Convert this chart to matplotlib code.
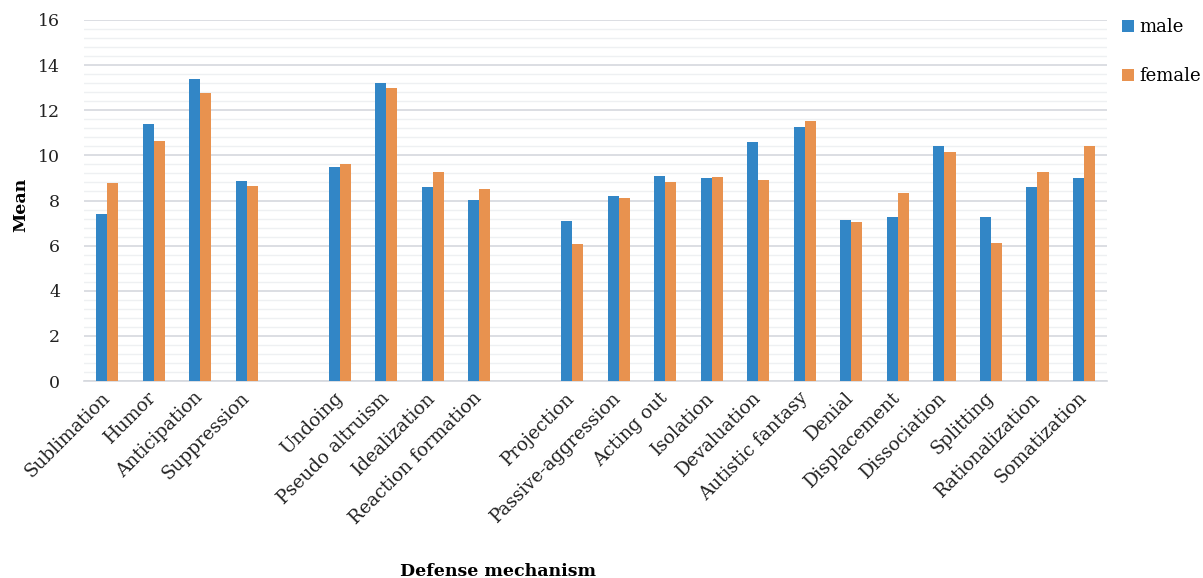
import matplotlib.pyplot as plt
import numpy as np
from matplotlib.ticker import MultipleLocator

# empty strings leave a blank slot between the mechanism groups
mechanisms = [
    "Sublimation", "Humor", "Anticipation", "Suppression", "",
    "Undoing", "Pseudo altruism", "Idealization", "Reaction formation", "",
    "Projection", "Passive-aggression", "Acting out", "Isolation",
    "Devaluation", "Autistic fantasy", "Denial", "Displacement",
    "Dissociation", "Splitting", "Rationalization", "Somatization",
]
male = [7.4, 11.4, 13.4, 8.85, np.nan,
        9.5, 13.2, 8.6, 8.03, np.nan,
        7.1, 8.18, 9.1, 9.0, 10.6, 11.27, 7.13, 7.28, 10.42, 7.28, 8.6, 9.0]
female = [8.78, 10.63, 12.75, 8.63, np.nan,
          9.6, 13.0, 9.25, 8.5, np.nan,
          6.08, 8.1, 8.82, 9.02, 8.9, 11.52, 7.04, 8.35, 10.15, 6.13, 9.25, 10.42]

blue = "#3286C6"
orange = "#E8924F"
plt.rcParams["font.family"] = ["DejaVu Serif"]

fig = plt.figure(figsize=(12.03, 5.78), dpi=100)
ax = fig.add_axes([0.0698, 0.3408, 0.8505, 0.6246])

x = np.arange(len(mechanisms))
w = 0.24
ax.bar(x - w / 2, male, w, color=blue, label="male", zorder=3)
ax.bar(x + w / 2, female, w, color=orange, label="female", zorder=3)

ax.set_xlim(-0.5, len(mechanisms) - 0.5)
ax.set_ylim(0, 16)
ax.yaxis.set_major_locator(MultipleLocator(2))
ax.yaxis.set_minor_locator(MultipleLocator(0.4))
ax.grid(which="major", axis="y", color="#D5D8DE", linewidth=1.2, zorder=0)
ax.grid(which="minor", axis="y", color="#EEF0F2", linewidth=1.0, zorder=0)
for side in ("top", "right", "left"):
    ax.spines[side].set_visible(False)
ax.spines["bottom"].set_color("#D5D8DE")
ax.spines["bottom"].set_linewidth(1.2)
ax.tick_params(axis="both", which="both", length=0)
ax.tick_params(axis="y", pad=17, labelsize=12.5, labelcolor="#222222")

ax.set_xticks(x)
ax.set_xticklabels(mechanisms, rotation=45, ha="right", va="center",
                   rotation_mode="anchor", fontsize=13.2, color="#222222")
ax.tick_params(axis="x", pad=10)

fig.text(0.017, 0.645, "Mean", fontsize=12.5, fontweight="bold",
         rotation=90, ha="center", va="center")
fig.text(0.414, 0.004, "Defense mechanism", fontsize=12.5, fontweight="bold",
         ha="center", va="baseline")

ax.legend(loc="upper left", bbox_to_anchor=(1.002, 1.04), frameon=False,
          fontsize=13, handlelength=0.65, handleheight=0.65, handletextpad=0.3,
          labelspacing=1.7, borderaxespad=0.3)

fig.savefig("out.png", dpi=100)
